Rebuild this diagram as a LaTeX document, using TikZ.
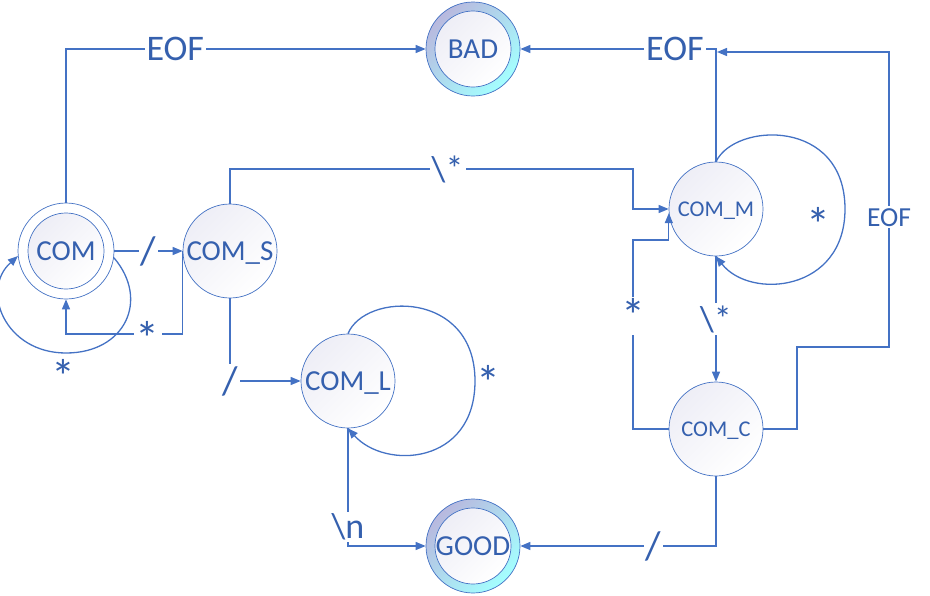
\documentclass[tikz,border=0pt]{standalone}
\usepackage{fontspec}
\setmainfont{Carlito}
\usetikzlibrary{arrows.meta}
\definecolor{lineblue}{HTML}{4472C4}
\definecolor{txtblue}{HTML}{3560AE}
\definecolor{ringA}{HTML}{B8B8DE}
\definecolor{ringB}{HTML}{A4FFFF}
\definecolor{fillA}{HTML}{EEEEF6}
\begin{document}
\begin{tikzpicture}[x=1pt,y=-1pt,
  state/.style={circle, draw=lineblue, line width=0.7pt, minimum size=94pt, inner sep=0pt,
    top color=fillA, bottom color=white, shading angle=45, text=txtblue,
    font=\fontsize{29}{30}\selectfont, text height=18.7pt, text depth=0pt},
  smalltxt/.style={font=\fontsize{22.5}{24}\selectfont, text height=14.5pt},
  outerc/.style={circle, draw=lineblue, line width=0.7pt, fill=white, minimum size=96pt, inner sep=0pt},
  ring/.style={circle, draw=lineblue, line width=0.7pt, minimum size=94pt, inner sep=0pt,
    top color=ringA, bottom color=ringB, shading angle=45},
  innerc/.style={state, minimum size=76pt},
  edge/.style={draw=lineblue, line width=1.3pt, -{Triangle[length=10pt,width=8pt]}},
  lbl/.style={fill=white, inner sep=2pt, text=txtblue, font=\fontsize{36}{38}\selectfont},
  slashlbl/.style={lbl, font=\fontsize{40}{42}\selectfont},
  starlbl/.style={lbl, font=\fontsize{48}{50}\selectfont},
  freelbl/.style={inner sep=0pt, text=txtblue, font=\fontsize{48}{50}\selectfont}
]
\useasboundingbox (0,0) rectangle (930,595);

% states
\node[ring] (BAD) at (473,49) {};
\node[innerc] (BADin) at (BAD) {\makebox[0pt]{BAD}};
\node[ring] (GOOD) at (473,546) {};
\node[innerc] (GOODin) at (GOOD) {\makebox[0pt]{GOOD}};
\node[outerc] (COM) at (66,251) {};
\node[innerc] (COMin) at (COM) {\makebox[0pt]{COM}};
\node[state] (COMS) at (230,251) {\makebox[0pt]{COM\_S}};
\node[state] (COML) at (348,381) {\makebox[0pt]{COM\_L}};
\node[state, smalltxt] (COMM) at (716,209) {\makebox[0pt]{COM\_M}};
\node[state, smalltxt] (COMC) at (716,429) {\makebox[0pt]{COM\_C}};
\coordinate (mEOF) at (717,52);

% EOF edges to BAD
\draw[edge] (COM.north) |- node[lbl, pos=0.652]{EOF} (BAD.west);
\draw[edge] (COMM.north) |- node[lbl, pos=0.605]{EOF} (BAD.east);
\draw[edge] (COMC.east) -| (797,347) -| node[lbl, pos=0.72, font=\fontsize{27.5}{29}\selectfont]{EOF} (889,52) -- (mEOF);

% COM <-> COM_S
\draw[edge] (COM.east) -- node[slashlbl]{/} (COMS.west);
\draw[edge] (COMS.west) -- ++(0,83) -| node[starlbl, pos=0.15, yshift=-4pt]{*} (COM.south);
\draw[edge] (COM.-8) .. controls (150,300) and (125,353) .. (66,353)
  .. controls (5,353) and (-20,290) .. (COM.186);
\node[freelbl] (sCOM) at (63,376) {*};

% COM_S -> COM_L
\draw[edge] (COMS.south) |- node[slashlbl, pos=0.5]{/} (COML.west);
% COM_L loop
\draw[edge] (COML.north) .. controls (365,292) and (475,290) .. (475,381)
  .. controls (475,465) and (385,470) .. (COML.south);
\node[freelbl] (sCOML) at (488,382) {*};
% COM_L -> GOOD
\draw[edge] (COML.south) |- node[lbl, yshift=19pt]{\textbackslash n} (GOOD.west);

% COM_S -> COM_M
\draw[edge] (COMS.north) |- node[lbl, pos=0.77]{\textbackslash*} (633,169) |- (COMM.west);
% COM_M loop
\draw[edge] (COMM.north) .. controls (735,122) and (845,118) .. (845,209)
  .. controls (845,292) and (750,300) .. (COMM.south);
\node[freelbl] (sCOMM) at (818,224) {*};
% COM_M -> COM_C
\draw[edge] (COMM.south) -- node[lbl]{\textbackslash*} (COMC.north);
% COM_C -> COM_M
\draw[edge] (COMC.west) -| node[starlbl, pos=0.81, yshift=-4pt]{*} (633,240) -| (COMM.185);
% COM_C -> GOOD
\draw[edge] (COMC.south) |- node[slashlbl, pos=0.66]{/} (GOOD.east);
\end{tikzpicture}
\end{document}
